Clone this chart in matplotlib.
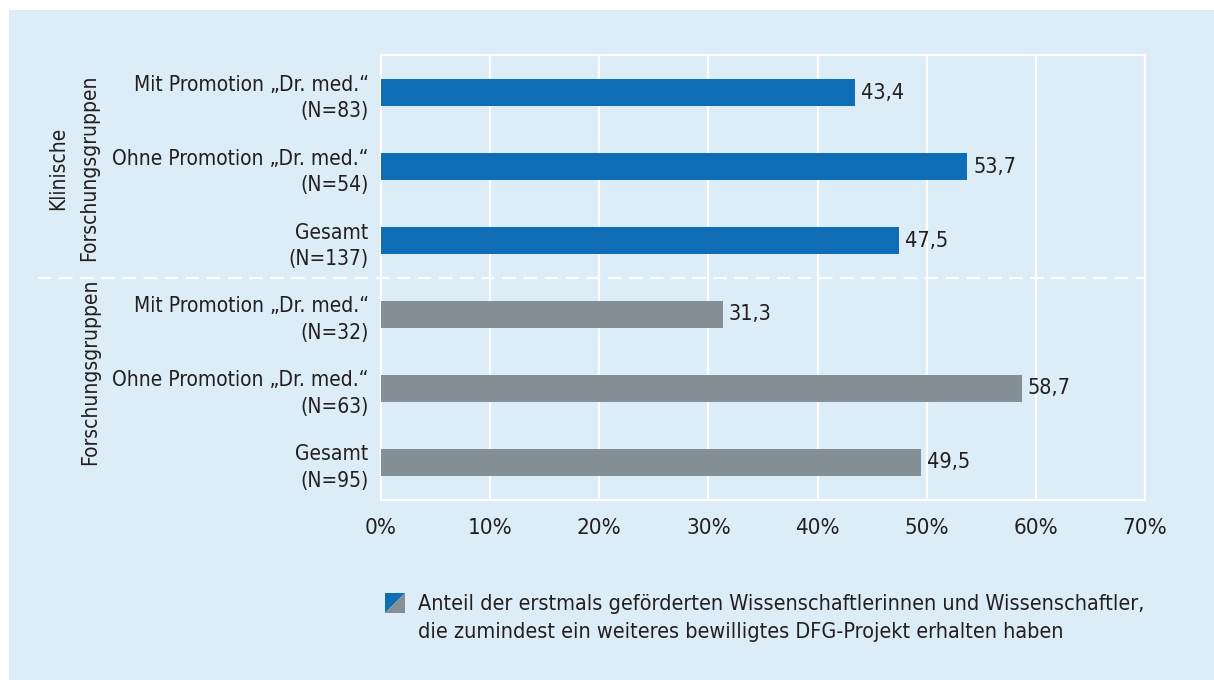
import matplotlib
matplotlib.use("Agg")
import matplotlib.pyplot as plt
from matplotlib.patches import Rectangle, Polygon
from matplotlib.lines import Line2D

categories = [
    "Mit Promotion \u201eDr. med.\u201c\n(N=83)",
    "Ohne Promotion \u201eDr. med.\u201c\n(N=54)",
    "Gesamt\n(N=137)",
    "Mit Promotion \u201eDr. med.\u201c\n(N=32)",
    "Ohne Promotion \u201eDr. med.\u201c\n(N=63)",
    "Gesamt\n(N=95)",
]
values = [43.4, 53.7, 47.5, 31.3, 58.7, 49.5]
groups = ["Klinische", "Klinische", "Klinische", "Forschung", "Forschung", "Forschung"]
group_labels = ["Klinische\nForschungsgruppen", "Forschungsgruppen"]
xticks = [0, 10, 20, 30, 40, 50, 60, 70]
legend_text = ("Anteil der erstmals geförderten Wissenschaftlerinnen und Wissenschaftler,\n"
               "die zumindest ein weiteres bewilligtes DFG-Projekt erhalten haben")

BLUE = "#0f6db6"
GRAY = "#848f96"
BG = "#ddedf8"
TXT = "#231f20"
FS = 16
FS_Y = 15

plt.rcParams["font.family"] = ["Liberation Sans Narrow", "DejaVu Sans"]
plt.rcParams["font.stretch"] = "condensed"

W, H = 1214, 680
fig = plt.figure(figsize=(W / 100, H / 100), dpi=100, facecolor="white")
fig.patches.append(Rectangle((9 / W, 0), 1 - 9 / W, 1 - 10 / H, transform=fig.transFigure,
                             facecolor=BG, edgecolor="none", zorder=-10))

ax = fig.add_axes([381 / W, 1 - 500 / H, (1145 - 381) / W, (500 - 55) / H])
ax.set_facecolor(BG)
ax.set_zorder(1)
ypos = list(range(len(values)))
colors = [BLUE if g == "Klinische" else GRAY for g in groups]
ax.barh(ypos, values, height=0.37, color=colors, zorder=3)
for y, v in zip(ypos, values):
    ax.text(v + 0.55, y, f"{v:.1f}".replace(".", ","), va="center", ha="left",
            fontsize=15.5, color=TXT, zorder=4)

ax.set_xlim(0, 70)
ax.set_ylim(5.51, -0.51)
ax.set_xticks(xticks)
ax.set_xticklabels([f"{t}%" for t in xticks], fontsize=FS, color=TXT)
ax.set_yticks(ypos)
ax.set_yticklabels(categories, fontsize=FS_Y, color=TXT, linespacing=1.42)
ax.tick_params(axis="both", length=0)
ax.tick_params(axis="x", pad=13)
ax.tick_params(axis="y", pad=9)
ax.grid(axis="x", color="white", linewidth=1.6, zorder=1)
ax.set_axisbelow(True)
for s in ax.spines.values():
    s.set_color("white")
    s.set_linewidth(1.6)

# dashed separator spanning into the figure
y_sep = 1 - 277.5 / H
fig.add_artist(Line2D([38 / W, 1145 / W], [y_sep, y_sep], transform=fig.transFigure,
                      color="white", linewidth=1.6, linestyle=(0, (6, 3.5)), zorder=5))

# group labels
fig.text(74 / W, 1 - 168 / H, group_labels[0], rotation=90, ha="center", va="center",
         fontsize=FS_Y, color=TXT, multialignment="center", linespacing=1.7)
fig.text(90 / W, 1 - 372 / H, group_labels[1], rotation=90, ha="center", va="center",
         fontsize=FS_Y, color=TXT)

# legend marker (split square) and text
x0, y0, s = 385, 593, 20
def fx(x): return x / W
def fy(y): return 1 - y / H
fig.patches.append(Polygon([(fx(x0), fy(y0)), (fx(x0 + s), fy(y0)), (fx(x0), fy(y0 + s))],
                           closed=True, transform=fig.transFigure, facecolor=BLUE, edgecolor="none"))
fig.patches.append(Polygon([(fx(x0 + s), fy(y0)), (fx(x0 + s), fy(y0 + s)), (fx(x0), fy(y0 + s))],
                           closed=True, transform=fig.transFigure, facecolor=GRAY, edgecolor="none"))
fig.text(418 / W, 1 - 618 / H, legend_text, ha="left", va="center", fontsize=15.5,
         color=TXT, linespacing=1.45)

fig.savefig("out.png", dpi=100, facecolor="white")
